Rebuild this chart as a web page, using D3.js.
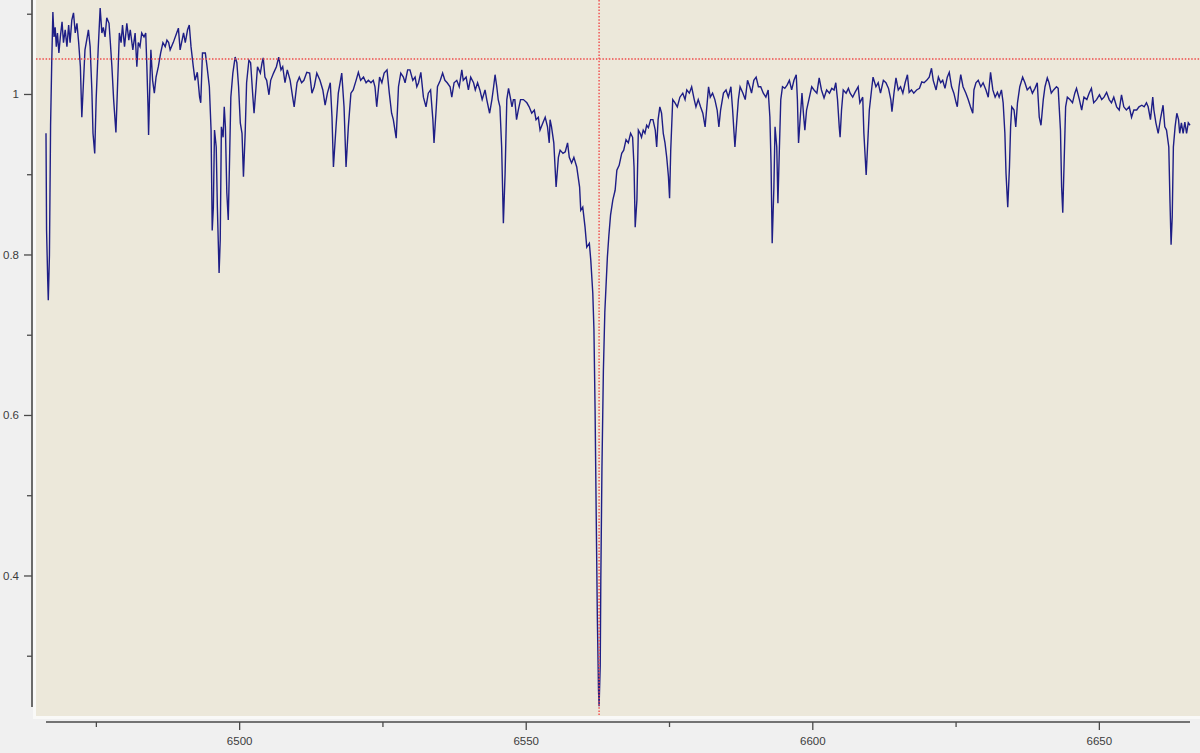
<!DOCTYPE html>
<html>
<head>
<meta charset="utf-8">
<script src="https://cdn.jsdelivr.net/npm/d3@7"></script>
<style>
  html, body { margin: 0; padding: 0; background: #f0f0f0; }
  svg { display: block; }
  .tick text { font-family: "Liberation Sans", Arial, sans-serif; font-size: 11.5px; fill: #3c3c3c; }
</style>
</head>
<body>
<svg id="chart" width="1200" height="753"></svg>
<script>
// spectrum, [wavelength in Å, normalised flux]
const blueEnd = [
  [6466.3,0.951],[6466.4,0.830],[6466.6,0.768],[6466.7,0.743],[6466.9,0.799],[6467.1,0.961],[6467.3,1.039],
  [6467.5,1.102],[6467.7,1.071],[6467.9,1.083],[6468.1,1.059],[6468.3,1.076],[6468.55,1.051],[6468.8,1.071],
  [6469.1,1.090],[6469.35,1.064],[6469.65,1.080],[6469.95,1.059],[6470.25,1.086],[6470.5,1.064],[6470.8,1.092],
  [6471.1,1.101],[6471.4,1.076],[6471.7,1.088],[6472.0,1.064],[6472.3,1.034],[6472.55,0.971],[6472.8,1.009],
  [6473.1,1.055],[6473.4,1.067],[6473.7,1.080],[6474.0,1.059],[6474.3,1.005],[6474.5,0.951],[6474.8,0.926],
  [6475.05,0.993],[6475.4,1.055],[6475.75,1.107],[6476.05,1.076],[6476.3,1.083],[6476.6,1.071],[6476.9,1.095],
  [6477.3,1.088],[6477.5,1.067],[6477.8,1.034],[6478.1,0.993],[6478.5,0.952],[6478.8,1.014],[6479.1,1.076],
  [6479.4,1.064],[6479.65,1.086],[6480.0,1.059],[6480.4,1.088],[6480.75,1.067],[6481.0,1.080],[6481.45,1.055],
  [6481.85,1.076],[6482.15,1.034],[6482.4,1.064],[6482.7,1.059],[6483.0,1.076],[6483.4,1.071],[6483.7,1.076],
  [6483.9,1.034],[6484.1,0.984],[6484.2,0.949],[6484.35,0.993],[6484.6,1.055],[6484.9,1.017],[6485.2,1.001],
  [6485.5,1.021],[6485.9,1.034],[6486.3,1.051],[6486.7,1.064],[6487.1,1.059],[6487.4,1.067],[6487.7,1.064],
  [6487.96,1.055],[6488.5,1.064],[6489.1,1.076],[6489.4,1.082]
];
const blueLines = [
  [6489.7,1.055],[6490.3,1.076],[6490.6,1.064],[6491.0,1.080],[6491.3,1.086],[6491.6,1.059],[6492.0,1.034],
  [6492.3,1.017],[6492.7,1.027],[6493.1,0.996],[6493.3,0.989],[6493.6,1.051],[6494.1,1.051],[6494.4,1.034],
  [6494.8,1.009],[6495.1,0.955],[6495.3,0.830],[6495.5,0.859],[6495.7,0.955],[6496.0,0.934],[6496.2,0.859],
  [6496.5,0.777],[6496.7,0.818],[6496.9,0.959],[6497.2,0.946],[6497.4,0.984],[6497.6,0.959],[6497.85,0.877],
  [6498.1,0.843],[6498.3,0.909],[6498.55,0.996],[6498.9,1.026],[6499.3,1.046],[6499.6,1.039],[6499.9,1.009],
  [6500.2,0.964],[6500.5,0.951],[6500.75,0.897],[6501.05,0.951],[6501.3,1.014],[6501.7,1.042],[6502.0,1.039],
  [6502.4,0.996],[6502.6,0.976],[6502.95,1.009],[6503.2,1.034],[6503.7,1.026],[6504.0,1.039],[6504.2,1.045],
  [6504.5,1.021],[6504.8,1.017],[6505.2,0.999],[6505.5,1.017],[6506.0,1.026],[6506.5,1.034],[6506.9,1.046],
  [6507.3,1.030],[6507.6,1.034],[6508.0,1.014],[6508.4,1.030],[6508.9,1.017],[6509.4,0.993],[6509.6,0.984],
  [6510.1,1.014],[6510.5,1.021],[6510.9,1.014],[6511.3,1.017],[6511.8,1.027],[6512.3,1.026],[6512.7,1.001],
  [6513.1,1.009],[6513.55,1.026],[6514.1,1.017],[6514.6,1.005],[6515.0,0.986],[6515.4,1.001],[6515.9,1.014],
  [6516.2,0.971],[6516.45,0.909],[6516.9,0.959],[6517.3,1.001],[6517.9,1.026],[6518.3,0.984],[6518.65,0.909],
  [6519.05,0.959],[6519.5,1.001],[6519.9,1.005],[6520.4,1.017],[6520.8,1.027],[6521.2,1.017],[6521.7,1.021],
  [6522.15,1.014],[6522.55,1.017],[6523.0,1.014],[6523.4,1.017],[6523.7,1.009],[6524.0,0.984],[6524.5,1.021],
  [6524.9,1.014],[6525.3,1.026],[6525.8,1.030],[6526.2,1.001],[6526.6,0.976],[6526.9,0.968],[6527.4,0.945],
  [6527.8,1.009],[6528.2,1.026],[6528.65,1.021],[6528.95,1.014],[6529.4,1.030],[6529.8,1.030],[6530.3,1.017],
  [6530.7,1.021],[6531.0,1.009],[6531.3,1.014],[6531.7,1.027],[6532.15,0.996],[6532.6,0.984],[6533.0,1.001],
  [6533.4,1.005],[6533.8,0.968],[6534.0,0.939],[6534.4,0.984],[6534.6,1.009],[6535.1,1.017],[6535.5,1.026],
  [6535.9,1.017],[6536.3,1.014],[6536.8,1.009],[6537.1,0.996],[6537.5,1.014],[6537.97,1.017],[6538.4,1.009],
  [6538.85,1.030],[6539.1,1.017],[6539.6,1.021],[6540.0,1.005],[6540.4,1.021],[6540.9,1.014],[6541.2,1.005],
  [6541.6,1.014],[6542.0,1.005],[6542.4,0.993],[6542.9,1.005],[6543.2,0.993],[6543.7,0.976],[6544.1,0.993],
  [6544.4,1.009],[6544.65,1.024],[6544.95,1.009],[6545.2,0.993],[6545.5,0.984],[6545.8,0.934],[6546.1,0.839],
  [6546.4,0.901],[6546.7,0.993],[6547.0,1.007],[6547.3,0.996],[6547.6,0.984],[6547.85,0.993],[6548.1,0.993],
  [6548.4,0.968],[6548.7,0.980],[6549.1,0.993],[6549.6,0.993],[6550.2,0.989],[6550.6,0.984],[6551.05,0.976],
  [6551.5,0.980],[6551.8,0.968],[6552.2,0.971],[6552.5,0.955],[6553.0,0.964],[6553.4,0.971],[6553.8,0.959],
  [6554.1,0.939]
];
const haProfile = [
  [6554.25,0.968],[6554.5,0.959],[6554.9,0.939],[6555.3,0.884],[6555.7,0.921],[6556.0,0.930],[6556.5,0.926],
  [6556.9,0.928],[6557.3,0.939],[6557.6,0.921],[6558.0,0.914],[6558.4,0.921],[6558.9,0.909],[6559.4,0.884],
  [6559.6,0.855],[6559.95,0.859],[6560.35,0.834],[6560.65,0.809],[6561.1,0.814],[6561.35,0.793],[6561.7,0.752],
  [6561.9,0.707],[6562.1,0.607],[6562.3,0.474],[6562.5,0.346],[6562.7,0.257],[6562.8,0.237],[6563.0,0.288],
  [6563.1,0.393],[6563.3,0.534],[6563.55,0.655],[6563.8,0.728],[6564.0,0.759],[6564.25,0.797],[6564.5,0.823],
  [6564.8,0.849],[6565.2,0.868],[6565.6,0.880],[6565.9,0.905],[6566.3,0.911],[6566.75,0.926],[6567.1,0.930],
  [6567.5,0.943],[6567.9,0.939],[6568.3,0.951],[6568.65,0.946],[6568.9,0.909],[6569.1,0.834],[6569.4,0.868],
  [6569.65,0.955],[6569.95,0.951],[6570.2,0.946],[6570.5,0.955],[6570.8,0.951],[6571.1,0.961],[6571.4,0.958],
  [6571.8,0.968],[6572.2,0.968],[6572.6,0.955],[6572.85,0.934],[6573.1,0.968],[6573.4,0.984],[6573.7,0.976],
  [6574.0,0.951],[6574.3,0.939],[6574.6,0.921],[6574.9,0.897],[6575.1,0.870],[6575.3,0.930]
];
const redLines = [
  [6575.65,0.993],[6576.05,0.989],[6576.45,0.984],[6576.9,0.996],[6577.4,1.001],[6577.8,0.993],[6578.1,1.005],
  [6578.55,1.001],[6578.95,1.009],[6579.4,0.993],[6579.7,0.984],[6580.1,0.993],[6580.5,0.984],[6580.9,0.976],
  [6581.3,0.959],[6581.6,0.984],[6581.9,1.009],[6582.2,0.996],[6582.6,1.001],[6583.0,0.993],[6583.4,0.980],
  [6583.7,0.959],[6584.0,0.980],[6584.5,1.001],[6584.95,1.005],[6585.35,0.996],[6585.8,1.009],[6586.1,0.980],
  [6586.35,0.951],[6586.5,0.934],[6586.8,0.964],[6587.1,0.993],[6587.4,1.009],[6587.9,1.001],[6588.3,0.993],
  [6588.7,1.017],[6589.1,1.009],[6589.4,1.001],[6589.8,1.017],[6590.2,1.021],[6590.6,1.009],[6591.0,1.009],
  [6591.45,1.001],[6591.9,0.996],[6592.3,1.005],[6592.6,0.971],[6592.8,0.914],[6593.0,0.814],[6593.3,0.884],
  [6593.5,0.959],[6593.8,0.934],[6594.0,0.864],[6594.25,0.930],[6594.5,0.993],[6594.8,1.009],[6595.2,1.007],
  [6595.6,1.011],[6596.0,1.017],[6596.4,1.005],[6596.8,1.017],[6597.2,1.024],[6597.4,0.993],[6597.6,0.939],
  [6597.9,0.971],[6598.2,1.001],[6598.45,0.976],[6598.7,0.955],[6599.0,0.980],[6599.5,0.996],[6599.9,1.009],
  [6600.3,1.005],[6600.8,1.001],[6601.2,1.020],[6601.6,1.005],[6602.05,0.995],[6602.5,1.005],[6603.0,1.001],
  [6603.4,1.007],[6603.8,1.005],[6604.1,1.014],[6604.4,0.993],[6604.7,0.959],[6604.85,0.946],[6605.1,0.980],
  [6605.4,1.005],[6605.9,1.001],[6606.3,1.007],[6606.6,1.001],[6607.05,0.996],[6607.45,1.002],[6608.0,1.009],
  [6608.3,0.989],[6608.8,0.996],[6609.0,0.951],[6609.4,0.899],[6609.7,0.943],[6609.95,0.980],[6610.4,1.009],
  [6610.6,1.021],[6611.1,1.009],[6611.5,1.014],[6611.9,1.001],[6612.4,1.017],[6612.85,1.014],[6613.3,1.007],
  [6613.7,0.993],[6613.9,0.978],[6614.25,1.001],[6614.6,1.020],[6615.0,1.005],[6615.4,1.009],[6615.8,1.001],
  [6616.2,1.014],[6616.6,1.024],[6616.9,1.002],[6617.3,1.005],[6617.7,1.001],[6618.2,1.005],[6618.7,1.007],
  [6619.1,1.015],[6619.5,1.014],[6619.95,1.017],[6620.4,1.021],[6620.8,1.032],[6621.1,1.017],[6621.6,1.005],
  [6622.0,1.021],[6622.4,1.014],[6622.75,1.017],[6623.15,1.007],[6623.55,1.021],[6623.9,1.027],[6624.3,1.009],
  [6624.7,1.001],[6625.1,0.989],[6625.3,0.984],[6625.6,1.009],[6625.9,1.024],[6626.3,1.009],[6626.8,1.001],
  [6627.2,0.993],[6627.6,0.984],[6628.0,0.976],[6628.2,1.005],[6628.55,1.014],[6628.95,1.017],[6629.4,1.009],
  [6629.8,1.014],[6630.3,1.005],[6630.7,0.996],[6631.1,1.027],[6631.5,1.005],[6631.9,0.996],[6632.3,1.002],
  [6632.6,0.996],[6633.0,1.005],[6633.3,0.989]
];
const redEnd = [
  [6633.6,0.951],[6633.8,0.901],[6634.1,0.859],[6634.4,0.909],[6634.6,0.959],[6634.8,0.984],[6635.2,0.980],
  [6635.5,0.959],[6635.8,0.989],[6636.2,1.009],[6636.7,1.021],[6637.1,1.014],[6637.5,1.005],[6638.0,1.009],
  [6638.4,1.001],[6638.85,1.007],[6639.25,1.014],[6639.6,0.971],[6639.9,0.961],[6640.3,0.993],[6640.6,1.009],
  [6641.0,1.020],[6641.3,1.014],[6641.7,1.001],[6642.1,1.005],[6642.6,1.009],[6642.9,1.007],[6643.3,0.955],
  [6643.5,0.884],[6643.7,0.852],[6643.95,0.918],[6644.2,0.984],[6644.5,0.996],[6644.95,0.993],[6645.4,0.989],
  [6645.8,1.001],[6646.1,1.007],[6646.6,0.993],[6647.0,0.980],[6647.4,0.996],[6647.9,0.993],[6648.3,1.001],
  [6648.7,1.007],[6649.1,0.989],[6649.6,0.993],[6650.1,0.999],[6650.5,0.993],[6650.9,0.996],[6651.35,1.002],
  [6651.8,0.993],[6652.2,0.989],[6652.6,0.996],[6653.1,0.984],[6653.55,0.980],[6653.95,0.999],[6654.35,0.984],
  [6654.8,0.980],[6655.3,0.984],[6655.7,0.971],[6656.1,0.980],[6656.6,0.980],[6657.0,0.984],[6657.5,0.986],
  [6657.9,0.984],[6658.3,0.989],[6658.6,0.984],[6659.0,0.968],[6659.4,0.996],[6659.6,0.980],[6659.95,0.964],
  [6660.35,0.951],[6660.8,0.971],[6661.2,0.986],[6661.5,0.959],[6661.8,0.955],[6662.2,0.934],[6662.4,0.868],
  [6662.6,0.812],[6662.8,0.847],[6663.0,0.934],[6663.3,0.959],[6663.6,0.976],[6663.9,0.968],[6664.1,0.951],
  [6664.4,0.964],[6664.7,0.951],[6665.0,0.965],[6665.3,0.951],[6665.6,0.964],[6665.9,0.961]
];

const xMajor = [6500, 6550, 6600, 6650];
const xMinor = [6475, 6525, 6575, 6625];
const yMajor = [0.4, 0.6, 0.8, 1];
const yMinor = [0.3, 0.5, 0.7, 0.9, 1.1];
const cursorWave = 6562.8;   // red dotted cursor lines
const cursorFlux = 1.0436;

const spectrum = [].concat(blueEnd, blueLines, haProfile, redLines, redEnd);

const svg = d3.select('#chart');
const plotL = 36, plotR = 1200, plotB = 716;

const x = d3.scaleLinear().domain([6466.3, 6665.9]).range([46, 1190]);
const y = d3.scaleLinear().domain([0.2249, 1.1171]).range([plotB, 0]);

// plot frame
svg.append('rect')
  .attr('x', plotL - 3).attr('y', 0)
  .attr('width', plotR - plotL + 3).attr('height', plotB + 3)
  .attr('fill', '#f9f9f7');
svg.append('rect')
  .attr('x', plotL).attr('y', 0)
  .attr('width', plotR - plotL).attr('height', plotB)
  .attr('fill', '#ece8da');

svg.append('clipPath').attr('id', 'clip')
  .append('rect')
  .attr('x', plotL).attr('y', 0)
  .attr('width', plotR - plotL).attr('height', plotB);

const g = svg.append('g').attr('clip-path', 'url(#clip)');

g.append('path')
  .datum(spectrum)
  .attr('d', d3.line().x(d => x(d[0])).y(d => y(d[1])))
  .attr('fill', 'none')
  .attr('stroke', '#1e1e86')
  .attr('stroke-width', 1.4)
  .attr('stroke-linejoin', 'miter');

// cursor lines
g.append('line')
  .attr('x1', plotL).attr('x2', plotR)
  .attr('y1', y(cursorFlux)).attr('y2', y(cursorFlux))
  .attr('stroke', '#f04a4a').attr('stroke-width', 1.4)
  .attr('stroke-dasharray', '1.5,1.7');
g.append('line')
  .attr('x1', x(cursorWave)).attr('x2', x(cursorWave))
  .attr('y1', 0).attr('y2', plotB)
  .attr('stroke', '#f04a4a').attr('stroke-width', 1.4)
  .attr('stroke-dasharray', '1.5,1.7');

// y axis
const axisColor = '#4a4a4a';
const yAxis = svg.append('g').attr('transform', 'translate(32,0)');
yAxis.call(d3.axisLeft(y).tickValues(yMajor).tickSize(8).tickPadding(5).tickFormat(d3.format('~g')));
yAxis.append('g').call(d3.axisLeft(y).tickValues(yMinor).tickSize(5).tickFormat(''));
yAxis.selectAll('.domain').remove();
yAxis.selectAll('line').attr('stroke', axisColor).attr('stroke-width', 1.3);
yAxis.append('line')
  .attr('x1', 0).attr('x2', 0).attr('y1', 0).attr('y2', 707)
  .attr('stroke', axisColor).attr('stroke-width', 1.6);

// x axis
const xAxis = svg.append('g').attr('transform', 'translate(0,722)');
xAxis.call(d3.axisBottom(x).tickValues(xMajor).tickSize(8).tickPadding(7).tickFormat(d3.format('d')));
xAxis.append('g').call(d3.axisBottom(x).tickValues(xMinor).tickSize(5).tickFormat(''));
xAxis.selectAll('.domain').remove();
xAxis.selectAll('line').attr('stroke', axisColor).attr('stroke-width', 1.3);
xAxis.append('line')
  .attr('x1', x.range()[0]).attr('x2', x.range()[1]).attr('y1', 0).attr('y2', 0)
  .attr('stroke', axisColor).attr('stroke-width', 1.6);
</script>
</body>
</html>
